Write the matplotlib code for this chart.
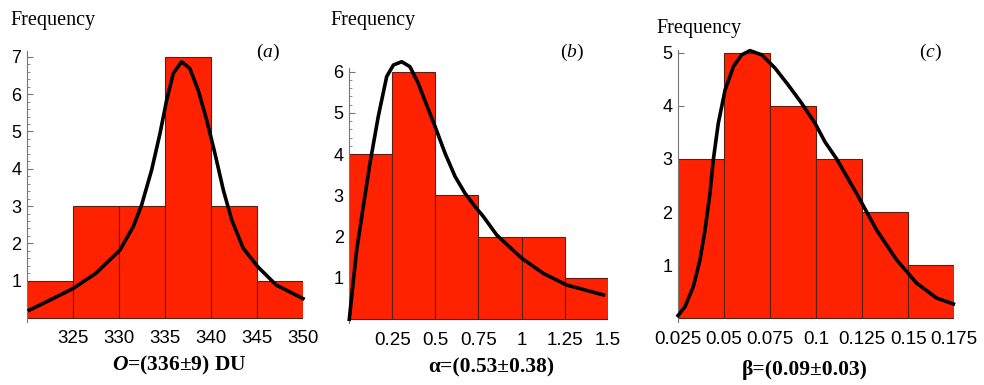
import numpy as np
import matplotlib
matplotlib.use('Agg')
import matplotlib.pyplot as plt
from matplotlib.ticker import AutoMinorLocator

plt.rcParams['mathtext.fontset'] = 'custom'
plt.rcParams['mathtext.rm'] = 'Liberation Serif'
plt.rcParams['mathtext.it'] = 'Liberation Serif:italic'
plt.rcParams['mathtext.bf'] = 'Liberation Serif:bold'
plt.rcParams['mathtext.bfit'] = 'Liberation Serif:bold:italic'

# (a) ozone column
a_edges = [320, 325, 330, 335, 340, 345, 350]
a_counts = [1, 3, 3, 7, 3, 1]
a_fit_x = [320.25, 322.5, 325.0, 327.5, 330.1, 331.55, 332.46, 333.55, 334.46, 335.18,
           335.9, 336.8, 337.7, 338.6, 339.53, 340.43, 341.34, 342.25, 343.5, 345.1,
           347.1, 350.0]
a_fit_y = [0.21, 0.48, 0.79, 1.2, 1.82, 2.45, 3.03, 3.97, 4.95, 5.84,
           6.56, 6.87, 6.69, 6.11, 5.31, 4.41, 3.43, 2.63, 1.87, 1.37,
           0.88, 0.52]
a_xticks = [325, 330, 335, 340, 345, 350]
a_xlabels = ['325', '330', '335', '340', '345', '350']

# (b) alpha
b_edges = [0, 0.25, 0.5, 0.75, 1.0, 1.25, 1.5]
b_counts = [4, 6, 3, 2, 2, 1]
b_fit_x = [0.0, 0.02, 0.043, 0.081, 0.12, 0.168, 0.217, 0.256, 0.304, 0.352,
           0.40, 0.449, 0.498, 0.556, 0.614, 0.672, 0.73, 0.778, 0.856, 1.001,
           1.127, 1.262, 1.475]
b_fit_y = [0.0, 0.8, 1.68, 2.73, 3.78, 4.91, 5.88, 6.16, 6.24, 6.12,
           5.72, 5.19, 4.67, 4.02, 3.46, 3.05, 2.73, 2.49, 2.04, 1.48,
           1.11, 0.83, 0.59]
b_xticks = [0.25, 0.5, 0.75, 1.0, 1.25, 1.5]
b_xlabels = ['0.25', '0.5', '0.75', '1', '1.25', '1.5']

# (c) beta
c_edges = [0.025, 0.05, 0.075, 0.1, 0.125, 0.15, 0.175]
c_counts = [3, 5, 4, 3, 2, 1]
c_fit_x = [0.0252, 0.029, 0.0335, 0.0371, 0.0398, 0.0425, 0.0443, 0.047, 0.0507, 0.0552,
           0.0597, 0.0642, 0.0706, 0.0778, 0.085, 0.0922, 0.0995, 0.1049, 0.1112, 0.122,
           0.1329, 0.1437, 0.1546, 0.1654, 0.1745]
c_fit_y = [0.05, 0.22, 0.6, 1.1, 1.66, 2.35, 2.98, 3.67, 4.3, 4.74,
           4.96, 5.04, 4.96, 4.71, 4.39, 4.05, 3.67, 3.32, 3.0, 2.35,
           1.66, 1.10, 0.66, 0.38, 0.27]
c_xticks = [0.025, 0.05, 0.075, 0.1, 0.125, 0.15, 0.175]
c_xlabels = ['0.025', '0.05', '0.075', '0.1', '0.125', '0.15', '0.175']

W, H = 984, 385
fig = plt.figure(figsize=(W / 100, H / 100), dpi=100)

panels = [
    # left px, bottom px, width px, height px, ylim, edges, counts, fit, ticks, labels, top tick, minor
    (27, 321.7, 276, 270.4, (-0.1, 7.15), a_edges, a_counts, a_fit_x, a_fit_y, a_xticks, a_xlabels, 7, True),
    (349.3, 323.4, 258.4, 255.9, (-0.1, 6.1), b_edges, b_counts, b_fit_x, b_fit_y, b_xticks, b_xlabels, 6, True),
    (677.7, 322.5, 276.6, 272.4, (-0.08, 5.05), c_edges, c_counts, c_fit_x, c_fit_y, c_xticks, c_xlabels, 5, False),
]

for (l, b, w, h, yl, edges, counts, fx, fy, xt, xl, ymax, minor) in panels:
    ax = fig.add_axes([l / W, (H - b) / H, w / W, h / H])
    widths = np.diff(edges)
    ax.bar(edges[:-1], counts, width=widths, align='edge', color='#ff2200',
           edgecolor='#5a1e14', linewidth=0.8, zorder=2)
    ax.plot(fx, fy, color='black', lw=2.6, zorder=3, clip_on=False,
            solid_joinstyle='round')
    ax.set_xlim(edges[0], edges[-1])
    ax.set_ylim(*yl)
    for s in ['top', 'right', 'bottom']:
        ax.spines[s].set_visible(False)
    ax.spines['left'].set_color('#777777')
    ax.spines['left'].set_linewidth(0.8)
    ax.set_yticks(range(1, ymax + 1))
    if minor:
        ax.yaxis.set_minor_locator(AutoMinorLocator(5))
    ax.tick_params(axis='y', which='major', direction='in', length=4, color='#777777',
                   labelsize=13, pad=4)
    ax.tick_params(axis='y', which='minor', direction='in', length=2, color='#777777')
    ax.set_xticks(xt)
    ax.set_xticklabels(xl)
    ax.tick_params(axis='x', length=0, labelsize=13.5, pad=6)
    for t in ax.get_xticklabels() + ax.get_yticklabels():
        t.set_fontfamily('Liberation Sans')

# Frequency labels
for x, y in [(10, 20), (330, 20), (656, 28)]:
    fig.text(x / W, 1 - y / H, 'Frequency', family='Liberation Serif', fontsize=14.5,
             va='center', ha='left')

# panel letters
for x, y, s in [(268, 52, 'a'), (572, 52, 'b'), (930, 52, 'c')]:
    fig.text(x / W, 1 - y / H, '($\\mathit{' + s + '}$)', family='Liberation Serif',
             fontsize=14, va='center', ha='center')

# parameter labels
for x, y, s in [(179, 365, r'$\mathbfit{O}$=(336±9) DU'),
                (491, 367, 'α=(0.53±0.38)'),
                (805, 370, 'β=(0.09±0.03)')]:
    fig.text(x / W, 1 - y / H, s, family='Liberation Serif', fontweight='bold',
             fontsize=15.5, va='center', ha='center')

fig.savefig('out.png', dpi=100)
